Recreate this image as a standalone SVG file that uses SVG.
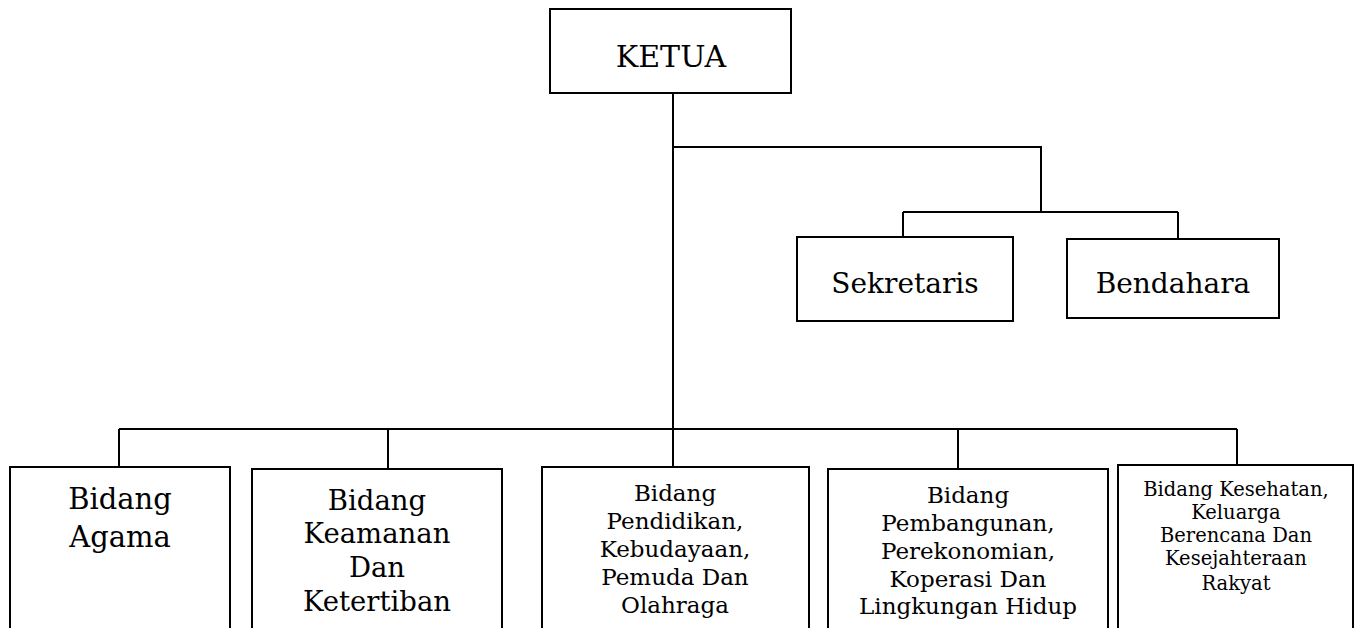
<svg xmlns="http://www.w3.org/2000/svg" width="1359" height="628" viewBox="0 0 1359 628">
<style>
.box{fill:#fff;stroke:#000;stroke-width:2}
.ln{fill:none;stroke:#000;stroke-width:2}
text{font-family:"DejaVu Serif","Liberation Serif",serif;fill:#000;text-anchor:middle}
.t30{font-size:30px}
.t28{font-size:28px}
.t29{font-size:29px}
.t27{font-size:27.5px}
.t22{font-size:23px}
.t19{font-size:19.5px}
</style>
<rect width="1359" height="628" fill="#fff"/>
<g id="connectors">
<path class="ln" d="M673 93V429M673 147H1041V212M903 212H1178M903 212V237M1178 212V239"/>
<path class="ln" d="M119 429H1237M119 429V467M388 429V469M673 429V467M958 429V469M1237 429V465"/>
</g>
<g id="ketua"><rect class="box" x="550" y="9" width="241" height="84"/><text class="t30" x="671" y="67">KETUA</text></g>
<g id="sekretaris"><rect class="box" x="797" y="237" width="216" height="84"/><text class="t28" x="905" y="293">Sekretaris</text></g>
<g id="bendahara"><rect class="box" x="1067" y="239" width="212" height="79"/><text class="t28" x="1173" y="293">Bendahara</text></g>
<g id="bidang-agama"><rect class="box" x="10" y="467" width="220" height="180"/><text class="t29"><tspan x="120" y="509">Bidang</tspan><tspan x="120" y="547">Agama</tspan></text></g>
<g id="bidang-keamanan"><rect class="box" x="252" y="469" width="250" height="180"/><text class="t27"><tspan x="377" y="510">Bidang</tspan><tspan x="377" y="543">Keamanan</tspan><tspan x="377" y="577">Dan</tspan><tspan x="377" y="611">Ketertiban</tspan></text></g>
<g id="bidang-pendidikan"><rect class="box" x="542" y="467" width="267" height="180"/><text class="t22"><tspan x="675" y="501">Bidang</tspan><tspan x="675" y="529">Pendidikan,</tspan><tspan x="675" y="557">Kebudayaan,</tspan><tspan x="675" y="585">Pemuda Dan</tspan><tspan x="675" y="613">Olahraga</tspan></text></g>
<g id="bidang-pembangunan"><rect class="box" x="828" y="469" width="280" height="180"/><text class="t22"><tspan x="968" y="503">Bidang</tspan><tspan x="968" y="531">Pembangunan,</tspan><tspan x="968" y="559">Perekonomian,</tspan><tspan x="968" y="587">Koperasi Dan</tspan><tspan x="968" y="614">Lingkungan Hidup</tspan></text></g>
<g id="bidang-kesehatan"><rect class="box" x="1118" y="465" width="235" height="180"/><text class="t19"><tspan x="1236" y="496">Bidang Kesehatan,</tspan><tspan x="1236" y="519">Keluarga</tspan><tspan x="1236" y="542">Berencana Dan</tspan><tspan x="1236" y="565">Kesejahteraan</tspan><tspan x="1236" y="590">Rakyat</tspan></text></g>
</svg>
